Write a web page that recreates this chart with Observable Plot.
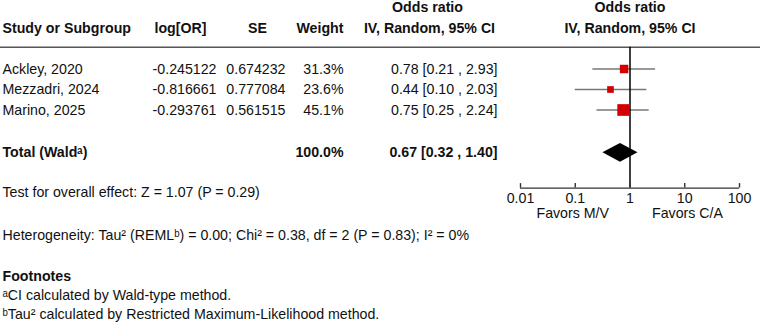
<!DOCTYPE html>
<html>
<head>
<meta charset="utf-8">
<script src="https://cdn.jsdelivr.net/npm/d3@7"></script>
<script src="https://cdn.jsdelivr.net/npm/@observablehq/plot@0.6"></script>
<style>
  html, body { margin: 0; padding: 0; background: #fff; }
  svg { display: block; }
</style>
</head>
<body>
<div id="chart"></div>
<script>
// Study-level inputs
const studyNames = ["Ackley, 2020", "Mezzadri, 2024", "Marino, 2025"];
const logORText = ["-0.245122", "-0.816661", "-0.293761"];
const seText = ["0.674232", "0.777084", "0.561515"];
const weights = [31.3, 23.6, 45.1];
const oddsRatios = [0.78, 0.44, 0.75];
const ciLow = [0.21, 0.10, 0.25];
const ciHigh = [2.93, 2.03, 2.24];

// Pooled estimate
const pooledOR = 0.67;
const pooledLow = 0.32;
const pooledHigh = 1.40;
const pooledWeight = 100.0;

// Axis ticks
const tickValues = [0.01, 0.1, 1, 10, 100];
const tickLabels = ["0.01", "0.1", "1", "10", "100"];

const fmt = (v) => v.toFixed(2);
const ciText = (or, lo, hi) => `${fmt(or)} [${fmt(lo)} , ${fmt(hi)}]`;

const studies = studyNames.map((name, i) => ({
  name,
  logOR: logORText[i],
  se: seText[i],
  weight: weights[i],
  or: oddsRatios[i],
  lo: ciLow[i],
  hi: ciHigh[i]
}));

// Vertical layout in row units
const ROW = {
  head1: 0, head2: 1, rule: 1.94, firstStudy: 3, total: 7.09,
  axis: 8.81, tickTop: 8.59, tickLabel: 9.32, favors: 10.05, test: 9.0,
  het: 11.12, foot: 13.1, footA: 14.07, footB: 14.99
};
const studyRow = (d, i) => ROW.firstStudy + i;

const bold = { fontWeight: "bold" };
const left = (dx) => ({ frameAnchor: "left", dx, textAnchor: "start" });
const at = (dx, anchor) => ({ frameAnchor: "left", dx, textAnchor: anchor });
const one = [0];

const diamond = [
  { x: pooledLow, y1: ROW.total, y2: ROW.total },
  { x: pooledOR, y1: ROW.total - 0.46, y2: ROW.total + 0.46 },
  { x: pooledHigh, y1: ROW.total, y2: ROW.total }
];

const chart = Plot.plot({
  width: 760,
  height: 327,
  margin: 0,
  style: { fontFamily: "'Liberation Sans', Arial, Helvetica, sans-serif", fontSize: "14.2px", color: "#111", background: "#fff" },
  x: { type: "log", domain: [0.01, 100], range: [520, 739], axis: null },
  y: { domain: [0, 15], range: [7, 7 + 15 * 20.5], axis: null },
  r: { type: "linear", domain: [0, 45.1], range: [0.68, 6.6] },
  marks: [
    // header rule
    Plot.ruleY([ROW.rule], { stroke: "#555", strokeWidth: 1.5 }),

    // column headers
    Plot.text(one, { y: () => ROW.head2, text: () => "Study or Subgroup", ...left(2), ...bold }),
    Plot.text(one, { y: () => ROW.head2, text: () => "log[OR]", ...at(180, "middle"), ...bold }),
    Plot.text(one, { y: () => ROW.head2, text: () => "SE", ...at(257, "middle"), ...bold }),
    Plot.text(one, { y: () => ROW.head2, text: () => "Weight", ...at(343, "end"), ...bold }),
    Plot.text(one, { y: () => ROW.head1, text: () => "Odds ratio", ...at(427, "middle"), ...bold }),
    Plot.text(one, { y: () => ROW.head2, text: () => "IV, Random, 95% CI", ...at(429, "middle"), ...bold }),
    Plot.text(one, { x: () => 1, y: () => ROW.head1, text: () => "Odds ratio", textAnchor: "middle", ...bold }),
    Plot.text(one, { x: () => 1, y: () => ROW.head2, text: () => "IV, Random, 95% CI", textAnchor: "middle", ...bold }),

    // study rows
    Plot.text(studies, { y: studyRow, text: "name", ...left(2) }),
    Plot.text(studies, { y: studyRow, text: "logOR", ...at(216, "end") }),
    Plot.text(studies, { y: studyRow, text: "se", ...at(285, "end") }),
    Plot.text(studies, { y: studyRow, text: (d) => `${d.weight.toFixed(1)}%`, ...at(343, "end") }),
    Plot.text(studies, { y: studyRow, text: (d) => ciText(d.or, d.lo, d.hi), ...at(497, "end") }),

    // total row
    Plot.text(one, { y: () => ROW.total, text: () => "Total (Waldᵃ)", ...left(2), ...bold }),
    Plot.text(one, { y: () => ROW.total, text: () => `${pooledWeight.toFixed(1)}%`, ...at(343, "end"), ...bold }),
    Plot.text(one, { y: () => ROW.total, text: () => ciText(pooledOR, pooledLow, pooledHigh), ...at(497, "end"), ...bold }),

    // statistics and footnotes
    Plot.text(one, { y: () => ROW.test, text: () => "Test for overall effect: Z = 1.07 (P = 0.29)", ...left(2) }),
    Plot.text(one, { y: () => ROW.het, text: () => "Heterogeneity: Tau² (REMLᵇ) = 0.00; Chi² = 0.38, df = 2 (P = 0.83); I² = 0%", ...left(2) }),
    Plot.text(one, { y: () => ROW.foot, text: () => "Footnotes", ...left(2), ...bold }),
    Plot.text(one, { y: () => ROW.footA, text: () => "ᵃCI calculated by Wald-type method.", ...left(2) }),
    Plot.text(one, { y: () => ROW.footB, text: () => "ᵇTau² calculated by Restricted Maximum-Likelihood method.", ...left(2) }),

    // confidence intervals and study estimates
    Plot.ruleY(studies, { y: studyRow, x1: "lo", x2: "hi", stroke: "#777", strokeWidth: 1.6 }),
    Plot.dot(studies, { x: "or", y: studyRow, r: "weight", symbol: "square", fill: "#d40000", stroke: "none" }),

    // pooled diamond
    Plot.areaY(diamond, { x: "x", y1: "y1", y2: "y2", fill: "#000", curve: "linear" }),

    // line of no effect
    Plot.ruleX([1], { y1: ROW.rule, y2: ROW.axis, stroke: "#000", strokeWidth: 1.5 }),

    // axis
    Plot.ruleY([ROW.axis], { x1: tickValues[0], x2: tickValues[tickValues.length - 1], stroke: "#333", strokeWidth: 1.4 }),
    Plot.ruleX(tickValues, { y1: ROW.tickTop, y2: ROW.axis, stroke: "#333", strokeWidth: 1.4 }),
    Plot.text(tickValues, { x: (d) => d, y: () => ROW.tickLabel, text: (d, i) => tickLabels[i], textAnchor: "middle" }),
    Plot.text(one, { x: () => 1, y: () => ROW.favors, text: () => "Favors M/V", textAnchor: "end", dx: -21 }),
    Plot.text(one, { x: () => 1, y: () => ROW.favors, text: () => "Favors C/A", textAnchor: "start", dx: 22 })
  ]
});

document.getElementById("chart").appendChild(chart);
</script>
</body>
</html>
